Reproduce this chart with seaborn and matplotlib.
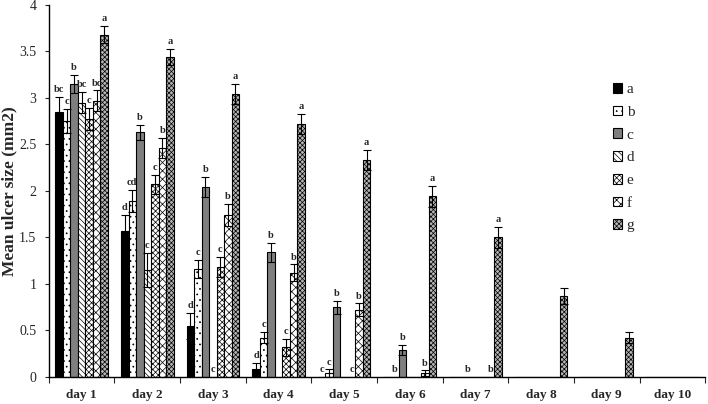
import numpy as np
import pandas as pd
import matplotlib
matplotlib.use("Agg")
import matplotlib.pyplot as plt
import seaborn as sns

days = [f"day {i}" for i in range(1, 11)]
groups = ["a", "b", "c", "d", "e", "f", "g"]

val_a = [2.85, 1.57, 0.55, 0.08, 0.00, 0.00, 0.00, 0.00, 0.00, 0.00]
val_b = [2.75, 1.89, 1.16, 0.42, 0.04, 0.00, 0.00, 0.00, 0.00, 0.00]
val_c = [3.15, 2.63, 2.04, 1.34, 0.75, 0.29, 0.00, 0.00, 0.00, 0.00]
val_d = [2.95, 1.15, 0.00, 0.00, 0.00, 0.00, 0.00, 0.00, 0.00, 0.00]
val_e = [2.77, 2.07, 1.18, 0.32, 0.00, 0.00, 0.00, 0.00, 0.00, 0.00]
val_f = [2.97, 2.46, 1.74, 1.12, 0.72, 0.04, 0.00, 0.00, 0.00, 0.00]
val_g = [3.68, 3.44, 3.04, 2.72, 2.33, 1.94, 1.50, 0.87, 0.42, 0.00]

err_a = [0.16, 0.17, 0.14, 0.075, 0, 0, 0, 0, 0, 0]
err_b = [0.13, 0.12, 0.10, 0.06, 0.04, 0, 0, 0, 0, 0]
err_c = [0.10, 0.08, 0.11, 0.10, 0.07, 0.055, 0, 0, 0, 0]
err_d = [0.11, 0.18, 0, 0, 0, 0, 0, 0, 0, 0]
err_e = [0.12, 0.10, 0.11, 0.09, 0, 0, 0, 0, 0, 0]
err_f = [0.11, 0.11, 0.12, 0.09, 0.07, 0.03, 0, 0, 0, 0]
err_g = [0.09, 0.09, 0.11, 0.11, 0.11, 0.11, 0.11, 0.09, 0.06, 0]

lab_a = ["bc", "d", "d", "d", "c", "", "", "", "", ""]
lab_b = ["c", "cd", "c", "c", "c", "b", "", "", "", ""]
lab_c = ["b", "b", "b", "b", "b", "b", "b", "", "", ""]
lab_d = ["bc", "c", "c", "", "", "", "", "", "", ""]
lab_e = ["c", "c", "c", "c", "c", "", "", "", "", ""]
lab_f = ["bc", "b", "b", "b", "b", "b", "b", "", "", ""]
lab_g = ["a", "a", "a", "a", "a", "a", "a", "", "", ""]

values = [val_a, val_b, val_c, val_d, val_e, val_f, val_g]
errors = [err_a, err_b, err_c, err_d, err_e, err_f, err_g]
letters = [lab_a, lab_b, lab_c, lab_d, lab_e, lab_f, lab_g]

rows = []
for g, vals in zip(groups, values):
    for d, v in zip(days, vals):
        rows.append({"day": d, "group": g, "value": v})
df = pd.DataFrame(rows)

sns.set_style("white")
plt.rcParams["font.family"] = ["Liberation Serif", "DejaVu Serif"]
plt.rcParams["hatch.linewidth"] = 0.5

faces = ["#000000", "#ffffff", "#7f7f7f", "#ffffff", "#ffffff", "#ffffff", "#b5b5b5"]
hatches = [None, "...", None, "\\\\\\\\\\\\", "xxxxxx", "xxxx", "xxxxxxx"]

fig = plt.figure(figsize=(7.08, 4.04), dpi=100)
ax = fig.add_axes([0.069, 0.067, 0.927, 0.921])

sns.barplot(data=df, x="day", y="value", hue="group", order=days, hue_order=groups,
            palette=dict(zip(groups, faces)), errorbar=None, width=0.8,
            edgecolor="black", linewidth=0.8, ax=ax, legend=True)

for cont, h, errs, labs in zip(ax.containers, hatches, errors, letters):
    for bar, e, lab in zip(cont, errs, labs):
        if h:
            bar.set_hatch(h)
        x = bar.get_x() + bar.get_width() / 2
        y = bar.get_height()
        if e > 0:
            ax.errorbar(x, y, yerr=e, color="black", lw=0.8, capsize=3, capthick=0.8)
        if lab:
            ax.text(x, y + e + 0.03, lab, ha="center", va="bottom",
                    fontsize=7.5, fontweight="bold")

ax.set_ylim(0, 4)
ax.set_xlim(-0.5, 9.5)
ax.set_yticks(np.arange(0, 4.01, 0.5))
ax.set_yticklabels(["0", "0.5", "1", "1.5", "2", "2.5", "3", "3.5", "4"], fontsize=10)
ax.set_xticks(np.arange(-0.5, 9.6, 1.0))
ax.set_xticklabels([])
ax.set_xticks(np.arange(0, 10), minor=True)
ax.set_xticklabels(days, minor=True, fontsize=9.5, fontweight="bold")
ax.tick_params(axis="x", which="major", direction="out", length=4, width=0.8, bottom=True)
ax.tick_params(axis="x", which="minor", length=0, pad=9)
ax.tick_params(axis="y", direction="out", length=3, width=0.8, left=True, pad=6)
ax.set_xlabel("")
ax.set_ylabel("Mean ulcer size (mm2)", fontsize=12.5, fontweight="bold", labelpad=1)

sns.despine(ax=ax)
for s in ["left", "bottom"]:
    ax.spines[s].set_color("black")
    ax.spines[s].set_linewidth(1.0)

handles, labels_ = ax.get_legend_handles_labels()
for hnd, h in zip(handles, hatches):
    if h:
        hnd.set_hatch(h)
ax.legend(handles, labels_, loc="upper left", bbox_to_anchor=(613 / 708, (404 - 83) / 404),
          bbox_transform=fig.transFigure, frameon=False, fontsize=11,
          handlelength=0.6, handleheight=0.6, handletextpad=0.3, labelspacing=0.62,
          borderpad=0, borderaxespad=0)

fig.savefig("out.png", dpi=100)
